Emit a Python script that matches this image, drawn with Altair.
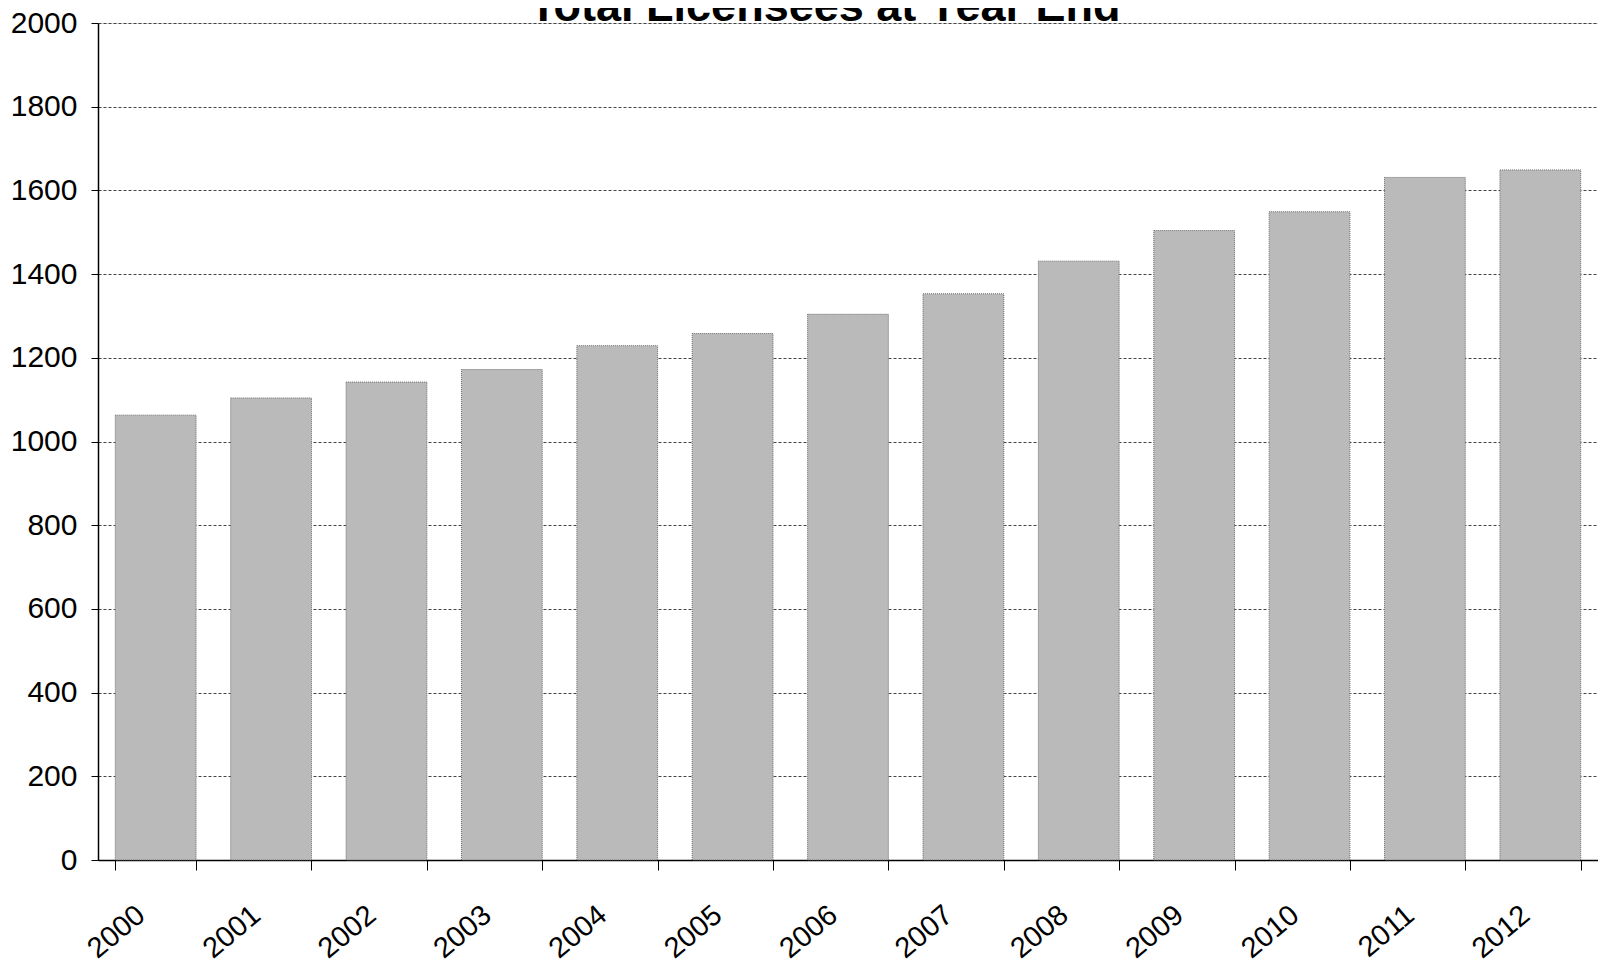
import altair as alt
import pandas as pd

years = ["2000", "2001", "2002", "2003", "2004", "2005", "2006",
         "2007", "2008", "2009", "2010", "2011", "2012"]
licensees = [1063, 1104, 1142, 1172, 1229, 1258, 1304,
             1353, 1431, 1504, 1549, 1631, 1649]
y_ticks = list(range(0, 2001, 200))
title_text = ["Total Licensees at Year End"]

df = pd.DataFrame({"Year": years, "Licensees": licensees})
title_df = pd.DataFrame({"title": title_text})

FONT = "Arial, Liberation Sans, sans-serif"

bars = alt.Chart(df).mark_bar(
    color="#bababa",
    stroke="#6a6a6a",
    strokeWidth=1,
    strokeDash=[1, 1],
).encode(
    x=alt.X(
        "Year:N",
        sort=years,
        scale=alt.Scale(paddingInner=0.3, paddingOuter=0.15),
        axis=alt.Axis(
            title=None,
            labelAngle=-40,
            labelAlign="right",
            labelBaseline="top",
            labelPadding=30,
            labelOffset=-24,
            labelFontSize=29,
            labelFont=FONT,
            labelColor="#000000",
            labelOverlap=False,
            labelBound=False,
            tickBand="extent",
            tickSize=10,
            tickColor="#000000",
            domainColor="#000000",
            domainWidth=1.5,
            grid=False,
        ),
    ),
    y=alt.Y(
        "Licensees:Q",
        scale=alt.Scale(domain=[0, 2000], nice=False),
        axis=alt.Axis(
            title=None,
            values=y_ticks,
            format="d",
            labelFontSize=30,
            labelFont=FONT,
            labelColor="#000000",
            labelPadding=14,
            tickSize=7,
            tickColor="#000000",
            domainColor="#000000",
            domainWidth=1.5,
            grid=True,
            gridColor="#444444",
            gridDash=[3, 2],
            gridWidth=1,
        ),
    ),
)

title = alt.Chart(title_df).mark_text(
    font=FONT,
    fontSize=45,
    fontWeight="bold",
    color="#000000",
    align="center",
    baseline="alphabetic",
).encode(
    text="title:N",
    x=alt.value(727),
    y=alt.value(-2),
)

chart = alt.layer(bars, title).properties(
    width=1500,
    height=837,
    padding={"left": 90, "top": 15, "right": 0, "bottom": 105},
    autosize=alt.AutoSizeParams(type="none"),
).configure_view(stroke=None).configure(background="white")

chart.save("out.html", embed_options={"renderer": "svg", "actions": False})
